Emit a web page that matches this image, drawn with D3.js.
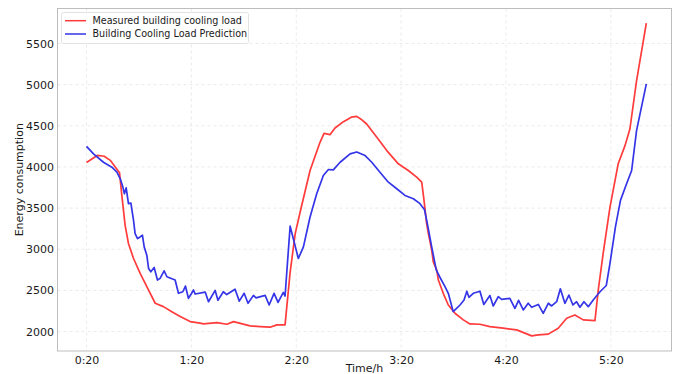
<!DOCTYPE html>
<html>
<head>
<meta charset="utf-8">
<script src="https://cdn.jsdelivr.net/npm/d3@7"></script>
<style>
  html, body { margin: 0; padding: 0; background: #fff; }
  svg { display: block; font-family: "DejaVu Sans", sans-serif; }
</style>
</head>
<body>
<svg id="chart" width="678" height="374"></svg>
<script>
// Measured load: time in minutes after midnight, load values
const measuredMinutes = [20, 26.1, 30.1, 33.6, 38.9, 40.2, 42.1, 44.0, 46.9, 50.7,
  54.5, 59.3, 64.0, 68.8, 73.6, 79.3, 85.0, 86.9, 94.6, 100.3,
  104.1, 113.6, 119.3, 125.0, 128.9, 133.6, 136.5, 139.4, 142.2, 147.9,
  153.6, 155.9, 159.3, 162.2, 167.0, 171.5, 174.6, 177.7, 180.3, 186.1,
  191.8, 198.4, 204.1, 208.9, 211.8, 213.1, 214.6, 215.6, 217.5, 218.4,
  220.4, 221.3, 224.1, 227.0, 230.8, 235.6, 239.4, 245.1, 250.8, 258.4,
  266.1, 270.8, 274.7, 278.5, 284.2, 289.9, 294.7, 299.4, 304.2, 310.9,
  312.8, 315.6, 319.5, 324.2, 328.1, 330.9, 334.7, 340.3];
const measuredLoad = [4054, 4140, 4130, 4080, 3929, 3654, 3291, 3070, 2888, 2707,
  2545, 2344, 2303, 2242, 2182, 2121, 2102, 2093, 2109, 2089,
  2121, 2069, 2060, 2053, 2081, 2081, 2720, 3190, 3450, 3956,
  4299, 4408, 4392, 4473, 4550, 4605, 4615, 4570, 4522, 4360,
  4199, 4038, 3957, 3876, 3815, 3594, 3312, 3191, 2989, 2847,
  2746, 2626, 2465, 2323, 2223, 2142, 2093, 2089, 2060, 2041,
  2021, 1981, 1948, 1960, 1969, 2041, 2162, 2202, 2142, 2133,
  2505, 2949, 3513, 4038, 4259, 4461, 5046, 5748];

// Predicted load
const predictedMinutes = [20.0, 24.0, 29.7, 34.5, 37.4, 39.3, 40.8, 41.7, 42.7, 44.0,
  45.4, 46.9, 47.8, 49.2, 50.7, 52.0, 53.0, 54.5, 55.5, 56.8,
  58.7, 60.6, 62.1, 64.4, 66.0, 70.7, 72.6, 75.1, 76.6, 78.3,
  79.9, 81.2, 82.2, 87.9, 89.8, 93.6, 95.2, 98.3, 100.2, 105.0,
  107.4, 110.2, 112.4, 115.5, 117.0, 122.2, 124.5, 127.3, 129.6, 132.6,
  133.6, 136.5, 141.2, 144.1, 147.9, 151.7, 155.5, 158.4, 161.2, 165.1,
  170.8, 174.6, 179.4, 183.2, 187.9, 192.7, 197.5, 202.2, 207.0, 210.8,
  213.4, 215.0, 217.5, 220.1, 222.2, 225.1, 227.0, 229.8, 233.7, 236.0,
  237.6, 238.8, 241.3, 245.1, 247.3, 250.8, 252.7, 255.6, 257.5, 262.2,
  265.1, 267.2, 269.9, 272.7, 274.7, 278.5, 281.3, 284.2, 286.1, 289.0,
  291.1, 293.7, 296.0, 298.3, 300.4, 302.3, 304.6, 307.1, 309.9, 313.8,
  317.4, 319.5, 322.6, 325.5, 329.0, 331.9, 334.7, 340.3];
const predictedLoad = [4250, 4159, 4057, 3997, 3936, 3856, 3755, 3675, 3747, 3554,
  3561, 3352, 3191, 3130, 3150, 3170, 3029, 2928, 2767, 2726,
  2779, 2626, 2646, 2738, 2666, 2626, 2465, 2484, 2553, 2404,
  2456, 2505, 2456, 2480, 2363, 2500, 2380, 2484, 2450, 2515,
  2370, 2465, 2344, 2440, 2410, 2440, 2323, 2465, 2355, 2475,
  2432, 3280, 2888, 3029, 3392, 3675, 3896, 3969, 3965, 4057,
  4159, 4182, 4138, 4057, 3936, 3815, 3735, 3654, 3614, 3554,
  3480, 3312, 3029, 2750, 2660, 2545, 2465, 2242, 2323, 2384,
  2490, 2416, 2465, 2490, 2330, 2438, 2311, 2424, 2392, 2404,
  2283, 2380, 2263, 2344, 2295, 2330, 2222, 2344, 2311, 2363,
  2520, 2344, 2444, 2323, 2363, 2295, 2363, 2303, 2384, 2484,
  2560, 2828, 3270, 3594, 3796, 3957, 4441, 5009];

const timeTicks = [20, 80, 140, 200, 260, 320];
const loadTicks = [2000, 2500, 3000, 3500, 4000, 4500, 5000, 5500];
const seriesNames = ["Measured building cooling load", "Building Cooling Load Prediction"];
const seriesColors = ["#ff3b3b", "#3535e8"];

const margin = { left: 57.5, top: 8.5, right: 6.5, bottom: 23 };
const W = 678, H = 374;
const iw = W - margin.left - margin.right;
const ih = H - margin.top - margin.bottom;

const svg = d3.select("#chart");
const g = svg.append("g").attr("transform", `translate(${margin.left},${margin.top})`);

const x = d3.scaleLinear().domain([3.4, 354.7]).range([0, iw]);
const y = d3.scaleLinear().domain([1764, 5925]).range([ih, 0]);

const fmtTime = m => `${Math.floor(m / 60)}:${String(m % 60).padStart(2, "0")}`;

// dashed grid
g.append("g").selectAll("line").data(loadTicks).join("line")
  .attr("x1", 0).attr("x2", iw)
  .attr("y1", d => y(d)).attr("y2", d => y(d))
  .attr("stroke", "#e4e4e4").attr("stroke-width", 0.8).attr("stroke-dasharray", "3,3");
g.append("g").selectAll("line").data(timeTicks).join("line")
  .attr("y1", 0).attr("y2", ih)
  .attr("x1", d => x(d)).attr("x2", d => x(d))
  .attr("stroke", "#e4e4e4").attr("stroke-width", 0.8).attr("stroke-dasharray", "3,3");

// axes
const xAxis = g.append("g").attr("transform", `translate(0,${ih})`)
  .call(d3.axisBottom(x).tickValues(timeTicks).tickFormat(fmtTime).tickSize(0).tickPadding(5));
const yAxis = g.append("g")
  .call(d3.axisLeft(y).tickValues(loadTicks).tickFormat(d3.format("d")).tickSize(0).tickPadding(3.5));
[xAxis, yAxis].forEach(a => {
  a.select(".domain").remove();
  a.selectAll("text").attr("font-family", "DejaVu Sans, sans-serif")
    .attr("font-size", 11).attr("fill", "#1a1a1a");
});

// frame
g.append("rect").attr("x", 0).attr("y", 0).attr("width", iw).attr("height", ih)
  .attr("fill", "none").attr("stroke", "#bdbdbd").attr("stroke-width", 1);

// lines
const line = d3.line().x(d => x(d[0])).y(d => y(d[1]));
const measured = d3.zip(measuredMinutes, measuredLoad);
const predicted = d3.zip(predictedMinutes, predictedLoad);
[measured, predicted].forEach((data, i) => {
  g.append("path").datum(data)
    .attr("d", line)
    .attr("fill", "none")
    .attr("stroke", seriesColors[i])
    .attr("stroke-width", 1.7)
    .attr("stroke-linejoin", "round");
});

// axis titles
svg.append("text").attr("x", margin.left + iw / 2).attr("y", 372)
  .attr("text-anchor", "middle").attr("font-size", 11).attr("fill", "#1a1a1a").text("Time/h");
svg.append("text")
  .attr("transform", `translate(19,${margin.top + ih / 2}) rotate(-90)`)
  .attr("text-anchor", "middle").attr("dy", "0.35em")
  .attr("font-size", 11).attr("fill", "#1a1a1a").text("Energy consumption");

// legend
const lg = svg.append("g").attr("transform", "translate(61.5,12.5)");
lg.append("rect").attr("width", 187).attr("height", 31).attr("rx", 2)
  .attr("fill", "#fff").attr("stroke", "#dcdcdc").attr("stroke-width", 0.8);
seriesNames.forEach((name, i) => {
  const ry = 8.2 + i * 13.3;
  lg.append("line").attr("x1", 3.5).attr("x2", 24.5).attr("y1", ry).attr("y2", ry)
    .attr("stroke", seriesColors[i]).attr("stroke-width", 1.5);
  lg.append("text").attr("x", 31).attr("y", ry).attr("dy", "0.35em")
    .attr("font-size", 9.6).attr("fill", "#1a1a1a").text(name);
});
</script>
</body>
</html>
